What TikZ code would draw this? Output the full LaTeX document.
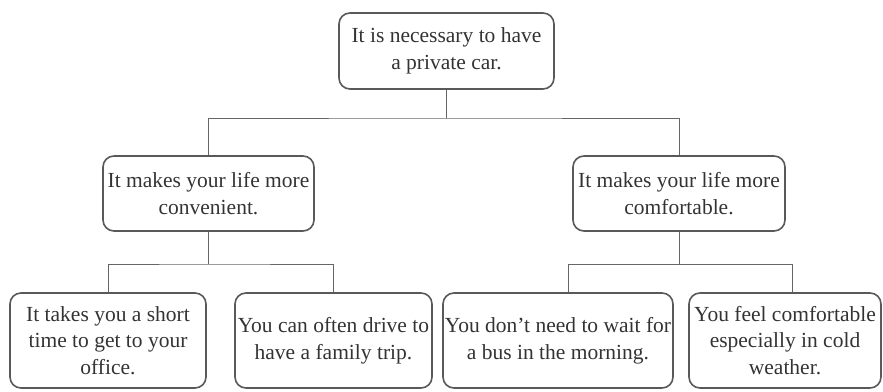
\documentclass[tikz,border=0pt]{standalone}
\usepackage{fontspec}
\setmainfont{Liberation Serif}
\newfontfamily\tms{Liberation Serif}
\begin{document}
\begin{tikzpicture}[x=1pt,y=-1pt,
  box/.style={draw=black!65, line width=1.6pt, rounded corners=11pt, inner sep=0pt,
    align=center, text=black!80, font=\tms\fontsize{21.5}{26.5}\selectfont},
  link/.style={draw=black!60, line width=0.9pt}]
\useasboundingbox (0,0) rectangle (883,391);
\node[box, minimum width=215pt, minimum height=76pt] (top) at (446.5,51) {It is necessary to have\\a private car.};
\node[box, minimum width=211pt, minimum height=75pt] (ml) at (208.5,193.5) {It makes your life more\\convenient.};
\node[box, minimum width=212pt, minimum height=75pt] (mr) at (679,193.5) {It makes your life more\\comfortable.};
\node[box, minimum width=196pt, minimum height=95pt] (b1) at (108,340.5) {It takes you a short\\time to get to your\\office.};
\node[box, minimum width=197pt, minimum height=95pt] (b2) at (333.5,340.5) {You can often drive to\\have a family trip.};
\node[box, minimum width=230pt, minimum height=95pt] (b3) at (558,340.5) {You don’t need to wait for\\a bus in the morning.};
\node[box, minimum width=192pt, minimum height=95pt] (b4) at (785,340.5) {You feel comfortable\\especially in cold\\weather.};
\coordinate (j0) at (446.5,118);
\coordinate (j1) at (208.5,264);
\coordinate (j2) at (679,264);
\draw[link] (top.south) -- (j0);
\draw[link] (ml.north) |- (j0) -| (mr.north);
\draw[link] (ml.south) -- (j1);
\draw[link] (mr.south) -- (j2);
\draw[link] (b1.north) |- (j1) -| (b2.north);
\draw[link] (j2) -| ([xshift=10pt]b3.north);
\draw[link] (j2) -| ([xshift=7pt]b4.north);
\end{tikzpicture}
\end{document}
